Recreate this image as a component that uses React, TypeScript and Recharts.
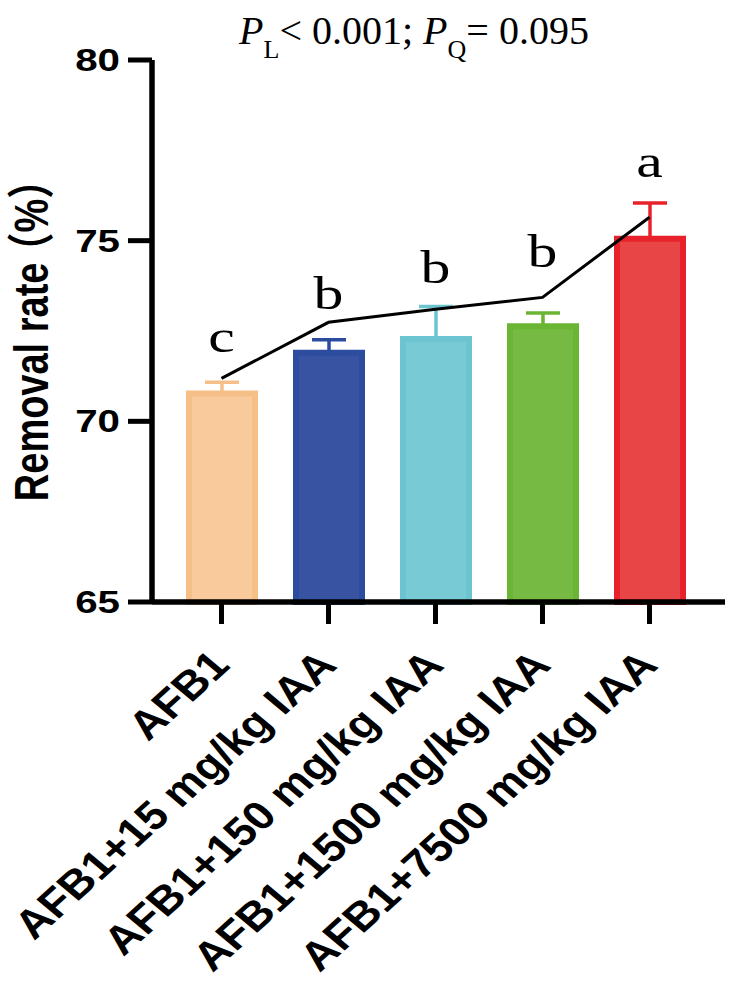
import React from 'react';
import { ComposedChart, Bar, Line, XAxis, YAxis, Cell, ErrorBar } from 'recharts';

const categories = [
  'AFB1',
  'AFB1+15 mg/kg IAA',
  'AFB1+150 mg/kg IAA',
  'AFB1+1500 mg/kg IAA',
  'AFB1+7500 mg/kg IAA',
];
const removalRate = [70.77, 71.9, 72.28, 72.63, 75.05];
const sdUpper = [0.31, 0.36, 0.9, 0.37, 0.99];
const trendLine = [71.19, 72.74, 73.1, 73.43, 75.65];
const sigLetters = ['c', 'b', 'b', 'b', 'a'];
const sigLetterAt = [71.93, 73.12, 73.82, 74.26, 76.76];
const yTicks = [65, 70, 75, 80];
const yDomain: [number, number] = [65, 80];

const fills = ['#F9CB9C', '#3853A1', '#78CAD4', '#76BA43', '#E84646'];
const strokes = ['#F7BF88', '#2B4C9F', '#6CC4D0', '#6AB533', '#E8222B'];

const data = categories.map((name, i) => ({
  name,
  idx: i,
  rate: removalRate[i],
  sd: sdUpper[i],
  trend: trendLine[i],
  letterAt: sigLetterAt[i],
  letter: sigLetters[i],
}));

const sansBold = "'Liberation Sans', Arial, 'Noto Sans CJK SC', sans-serif";
const serif = "'Liberation Serif', 'Times New Roman', serif";

const YTick = (props: any) => {
  const { x, y, payload } = props;
  return (
    <text
      transform={`translate(${x},${y + 11}) scale(1.3,1)`}
      textAnchor="end"
      fontFamily={sansBold}
      fontWeight="bold"
      fontSize={31}
      fill="#000"
    >
      {payload.value}
    </text>
  );
};

const XTick = (props: any) => {
  const { x, y, payload } = props;
  return (
    <text
      transform={`translate(${x + 10},${y + 43}) scale(1.15,1) rotate(-46)`}
      textAnchor="end"
      fontFamily={sansBold}
      fontWeight="bold"
      fontSize={40}
      fill="#000"
    >
      {payload.value}
    </text>
  );
};

const YLabel = (props: any) => {
  const vb = props.viewBox || { x: 0, y: 60, width: 152, height: 542 };
  const cy = vb.y + vb.height / 2;
  return (
    <text
      transform={`translate(31,${cy}) scale(1.25,1) rotate(-90)`}
      textAnchor="middle"
      dominantBaseline="central"
      fontFamily={sansBold}
      fontWeight="bold"
      fontSize={38}
      fill="#000"
    >
      <tspan>Removal rate</tspan>
      <tspan dx={-8}>（%）</tspan>
    </text>
  );
};

const LetterDot = (props: any) => {
  const { cx, cy, index } = props;
  if (cx == null || cy == null) return <g key={`l${index}`} />;
  return (
    <text
      key={`l${index}`}
      transform={`translate(${cx},${cy}) scale(1.3,1)`}
      textAnchor="middle"
      fontFamily={serif}
      fontSize={46}
      fill="#000"
    >
      {sigLetters[index]}
    </text>
  );
};

export default function App() {
  return (
    <div style={{ position: 'absolute', left: 0, top: 0, width: 733, height: 981, background: '#fff' }}>
      <ComposedChart
        width={733}
        height={981}
        data={data}
        margin={{ top: 60, right: 8, bottom: 0, left: 0 }}
      >
        <XAxis
          dataKey="name"
          interval={0}
          height={379}
          padding={{ left: 16, right: 22 }}
          axisLine={{ stroke: '#000', strokeWidth: 5.5 }}
          tickLine={{ stroke: '#000', strokeWidth: 5 }}
          tickSize={22}
          tickMargin={0}
          tick={<XTick />}
        />
        <YAxis
          type="number"
          domain={yDomain}
          ticks={yTicks}
          width={152}
          axisLine={{ stroke: '#000', strokeWidth: 5.5 }}
          tickLine={{ stroke: '#000', strokeWidth: 5 }}
          tickSize={24}
          tickMargin={8}
          tick={<YTick />}
          label={<YLabel />}
        />
        <Bar dataKey="rate" barSize={66} strokeWidth={6} isAnimationActive={false}>
          {data.map((d, i) => (
            <Cell key={d.name} fill={fills[i]} stroke={strokes[i]} />
          ))}
          {strokes.map((c, i) => (
            <ErrorBar
              key={`e${i}`}
              dataKey={(d: any) => (d.idx === i ? [0, d.sd] : undefined)}
              width={17}
              stroke={c}
              strokeWidth={3.5}
              direction="y"
              isAnimationActive={false}
            />
          ))}
        </Bar>
        <Line
          dataKey="trend"
          type="linear"
          stroke="#000"
          strokeWidth={3}
          dot={false}
          activeDot={false}
          isAnimationActive={false}
        />
        <Line
          dataKey="letterAt"
          stroke="none"
          dot={<LetterDot />}
          activeDot={false}
          isAnimationActive={false}
        />
      </ComposedChart>
      <svg
        width={733}
        height={80}
        style={{ position: 'absolute', left: 0, top: 0, pointerEvents: 'none' }}
      >
        <text x={414} y={44} textAnchor="middle" fontFamily={serif} fontSize={40} fill="#000">
          <tspan fontStyle="italic">P</tspan>
          <tspan fontSize={26} dy={14}>L</tspan>
          <tspan dy={-14}>{'< 0.001; '}</tspan>
          <tspan fontStyle="italic">P</tspan>
          <tspan fontSize={26} dy={14}>Q</tspan>
          <tspan dy={-14}>{'= 0.095'}</tspan>
        </text>
      </svg>
    </div>
  );
}
